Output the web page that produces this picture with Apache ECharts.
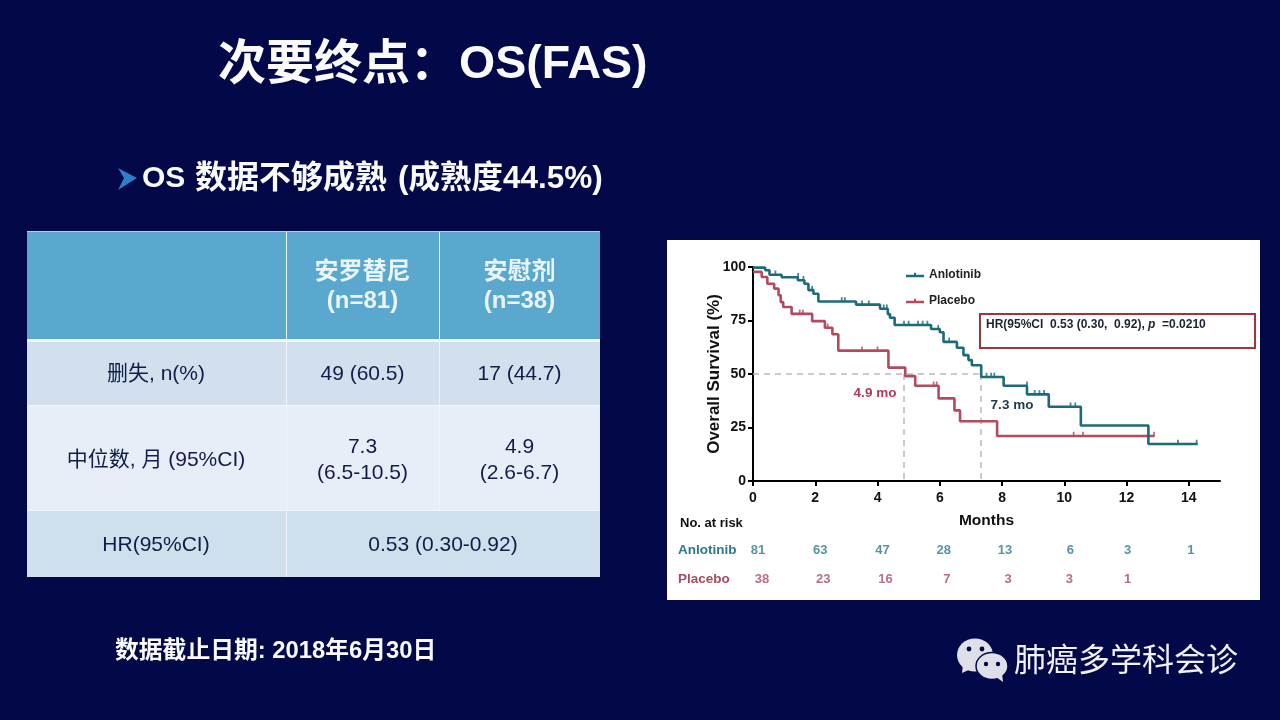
<!DOCTYPE html>
<html><head><meta charset="utf-8">
<style>html,body{margin:0;padding:0;background:#020848}#c{width:1280px;height:720px}</style>
<script src="https://cdn.jsdelivr.net/npm/echarts@6/dist/echarts.min.js"></script>
</head><body><div id="c"></div>
<script>
const months = [0,2,4,6,8,10,12,14];
const anlotinibCurve = [[0,99.7],[0.39,98.5],[0.53,96.4],[0.92,95.2],[1.44,93.8],[1.65,92.2],[1.78,89.2],[1.94,87.5],[2.1,83.9],[3.31,82.4],[4.08,80.5],[4.33,78],[4.4,76.3],[4.55,72.9],[5.72,71],[6.0,69.5],[6.12,65],[6.55,62.3],[6.76,58.8],[6.92,56.5],[7.03,54.1],[7.33,48.6],[8.05,44.5],[8.8,40.5],[9.5,34.7],[10.53,25.9],[12.7,17.3],[14.28,17.3]];
const placeboCurve = [[0,97.7],[0.28,95.3],[0.46,92.2],[0.68,89.9],[0.82,86.8],[0.89,83.6],[0.97,81.3],[1.24,78.1],[1.9,74.7],[2.31,71.6],[2.55,68.6],[2.74,60.9],[4.35,53],[4.89,49],[5.21,44.5],[5.96,38.6],[6.47,33],[6.65,27.9],[7.84,21],[12.9,21]];
const anlotinibCensor = [[0.72,96.4],[1.45,95.2],[1.62,93.8],[1.9,89.2],[2.85,83.9],[2.95,83.9],[3.5,82.4],[3.72,82.4],[4.2,80.5],[4.3,80.5],[4.85,72.9],[5.0,72.9],[5.3,72.9],[5.45,72.9],[5.6,72.9],[5.95,71],[6.3,65],[7.5,48.6],[7.65,48.6],[7.75,48.6],[8.8,44.5],[9.05,40.5],[9.2,40.5],[9.35,40.5],[10.2,34.7],[10.35,34.7],[13.65,17.3],[14.25,17.3]];
const placeboCensor = [[1.5,78.1],[1.6,78.1],[2.4,71.6],[3.5,60.9],[4.0,60.9],[5.8,44.5],[5.9,44.5],[10.3,21],[10.6,21],[12.88,21]];
const medians = [4.85,7.32];
const riskNames = ['Anlotinib','Placebo'];
const riskAnlotinib = [81,63,47,28,13,6,3,1];
const riskPlacebo = [38,23,16,7,3,3,1];
const tableHead = ['安罗替尼\n(n=81)','安慰剂\n(n=38)'];
const tableCensored = ['删失, n(%)','49 (60.5)','17 (44.7)'];
const tableMedian = ['中位数, 月 (95%CI)','7.3\n(6.5-10.5)','4.9\n(2.6-6.7)'];
const tableHR = ['HR(95%CI)','0.53 (0.30-0.92)'];

const FF = '"Liberation Sans","Noto Sans CJK SC",sans-serif';
const BG = '#020848', TEAL = '#1b6a7e', RED = '#b4495f';
const g = [];
function rect(x,y,w,h,fill,z){g.push({type:'rect',shape:{x:x,y:y,width:w,height:h},style:{fill:fill},z:z||0,silent:true});}
function txt(s,x,y,size,color,bold,align,lh){g.push({type:'text',x:x,y:y,z:20,silent:true,style:{text:s,fill:color,font:(bold?'bold ':'')+size+'px '+FF,textAlign:align||'center',textVerticalAlign:'middle',lineHeight:lh||size*1.2}});}

// slide texts
txt('次要终点：',218,66,48,'#fafafa',true,'left');
txt('OS(FAS)',459,65,46.5,'#fafafa',true,'left');
g.push({type:'polygon',shape:{points:[[118,168],[137,178],[118,190],[124,178]]},style:{fill:'#2f7ecb'},z:20,silent:true});
txt('OS',142,179,30,'#fafafa',true,'left');
txt('数据不够成熟',195,179,32,'#fafafa',true,'left');
txt('(成熟度44.5%)',398,179,31.5,'#fafafa',true,'left');
txt('数据截止日期: 2018年6月30日',115,651,23.8,'#fafafa',true,'left');

// table
rect(27,232,573,107,'#5ba8cf');
rect(27,342,573,63,'#d1e0ec');
rect(27,405,573,106,'#e8eef7');
rect(27,511,573,66,'#cfe0ec');
rect(27,231,573,1,'#a9d0e6');
rect(27,339,573,3,'#f2f7fb');
rect(27,405,573,1,'#f2f6fb');
rect(27,510,573,1,'#f2f6fb');
rect(286,232,1,345,'#eef4f9');
rect(439,232,1,279,'#eef4f9');
const cx=[156,362.5,519.5], INK='#101d4a';
txt(tableHead[0],cx[1],287,24,'#eaf5fb',true,'center',29);
txt(tableHead[1],cx[2],287,24,'#eaf5fb',true,'center',29);
tableCensored.forEach((s,i)=>txt(s,cx[i],374,21,INK));
tableMedian.forEach((s,i)=>txt(s,cx[i],460,21,INK,false,'center',26));
txt(tableHR[0],cx[0],545,21,INK);
txt(tableHR[1],443,545,21,INK);

// chart panel
rect(667,240,593,360,'#ffffff',0);
g.push({type:'rect',shape:{x:980,y:314,width:275,height:34},style:{fill:'none',stroke:'#a8303c',lineWidth:2},z:20,silent:true});
g.push({type:'text',x:986,y:325,z:20,silent:true,style:{rich:{a:{font:'bold 12px '+FF,fill:'#1c2430'},p:{font:'italic bold 12px '+FF,fill:'#1c2430'}},text:'{a|HR(95%CI  0.53 (0.30,  0.92), }{p|p}{a|  =0.0210}',textVerticalAlign:'middle'}});
txt('4.9 mo',875,393,13.5,'#b03a5a',true);
txt('7.3 mo',1012,405,13.5,'#1d3a4a',true);
txt('No. at risk',680,523,13,'#111',true,'left');

// wechat mark
g.push({type:'ellipse',shape:{cx:975,cy:655,rx:18,ry:16.5},style:{fill:'#dfdfea'},z:20,silent:true});
g.push({type:'polygon',shape:{points:[[963,664],[962,673],[973,668]]},style:{fill:'#dfdfea'},z:20,silent:true});
g.push({type:'ellipse',shape:{cx:992,cy:666,rx:16,ry:13.5},style:{fill:'#dfdfea',stroke:BG,lineWidth:1.5},z:21,silent:true});
g.push({type:'polygon',shape:{points:[[996,677],[1003,682],[1002,673]]},style:{fill:'#dfdfea'},z:21,silent:true});
[[969,649,2.4],[982,649,2.4],[986,664,2.2],[998,664,2.2]].forEach(d=>g.push({type:'circle',shape:{cx:d[0],cy:d[1],r:d[2]},style:{fill:BG},z:22,silent:true}));
txt('肺癌多学科会诊',1014,662,32,'#f0f0f5',false,'left');

const risk = (vals,name,color,offs)=>({type:'scatter',name:name+' at risk',xAxisIndex:1,yAxisIndex:1,symbolSize:0,silent:true,legendHoverLink:false,
  data:vals.map((v,i)=>({value:[months[i],name],risk:v,label:{offset:[offs[i],0]}})),
  label:{show:true,position:'inside',formatter:p=>String(p.data.risk),color:color,fontFamily:FF,fontWeight:'bold',fontSize:13}});
const censor=(data,color,name)=>({type:'scatter',name:name+' censored',data:data,symbol:'rect',symbolSize:[1.8,4.5],symbolOffset:[0,-2],itemStyle:{color:color},silent:true,z:6,clip:false});
const curve=(data,color,name)=>({type:'line',name:name,data:data,step:'end',symbol:'none',lineStyle:{color:color,width:2.6},itemStyle:{color:color},silent:true,z:5,clip:false});

const chart = echarts.init(document.getElementById('c'),null,{renderer:'canvas'});
chart.setOption({
  animation:false,
  backgroundColor:BG,
  textStyle:{fontFamily:FF},
  grid:[{left:753,top:267,width:467,height:214},{left:753,top:536,width:467,height:58}],
  legend:{data:riskNames,left:901,top:264,orient:'vertical',itemGap:14,itemWidth:18,itemHeight:8,
    icon:'path://M0,3H18V5.4H0Z M8,1H10V5H8Z',textStyle:{fontFamily:FF,fontWeight:'bold',fontSize:12,color:'#222'},z:10},
  xAxis:[{type:'value',min:0,max:15,gridIndex:0,name:'Months',nameLocation:'middle',nameGap:32,nameMoveOverlap:false,
      nameTextStyle:{fontFamily:FF,fontWeight:'bold',fontSize:15.5,color:'#111'},
      axisLine:{show:true,onZero:false,lineStyle:{color:'#000',width:2}},
      axisTick:{show:true,length:5,lineStyle:{color:'#000',width:2},customValues:months},
      axisLabel:{customValues:months,margin:10,fontFamily:FF,fontWeight:'bold',fontSize:14,color:'#111'},splitLine:{show:false}},
    {type:'value',min:0,max:15,gridIndex:1,show:false}],
  yAxis:[{type:'value',min:0,max:100,interval:25,gridIndex:0,name:'Overall Survival (%)',nameLocation:'middle',nameGap:30,nameMoveOverlap:false,
      nameTextStyle:{fontFamily:FF,fontWeight:'bold',fontSize:17,color:'#111'},
      axisLine:{show:true,lineStyle:{color:'#000',width:2}},
      axisTick:{show:true,length:5,lineStyle:{color:'#000',width:2}},
      axisLabel:{margin:7,fontFamily:FF,fontWeight:'bold',fontSize:14,color:'#111'},splitLine:{show:false}},
    {type:'category',data:riskNames,inverse:true,gridIndex:1,axisLine:{show:false},axisTick:{show:false},
      axisLabel:{align:'left',margin:75,fontFamily:FF,fontWeight:'bold',fontSize:13.5,color:(v)=>v==='Anlotinib'?'#2a7a8a':'#a84a62'}}],
  series:[
    {type:'line',name:'median guides',data:[],silent:true,z:3,
     markLine:{silent:true,symbol:'none',label:{show:false},lineStyle:{color:'#b9b9b9',type:[6,5],width:1.5},
       data:[[{coord:[0,50]},{coord:[medians[1],50]}],[{coord:[medians[0],50]},{coord:[medians[0],0]}],[{coord:[medians[1],50]},{coord:[medians[1],0]}]]}},
    curve(placeboCurve,RED,'Placebo'),
    curve(anlotinibCurve,TEAL,'Anlotinib'),
    censor(placeboCensor,RED,'Placebo'),
    censor(anlotinibCensor,TEAL,'Anlotinib'),
    risk(riskAnlotinib,'Anlotinib','#2a7a8a',[5,5,5,4,3,6,1,2]),
    risk(riskPlacebo,'Placebo','#a84a62',[9,8,8,7,6,5,1])
  ],
  graphic:{elements:g}
});
</script></body></html>
